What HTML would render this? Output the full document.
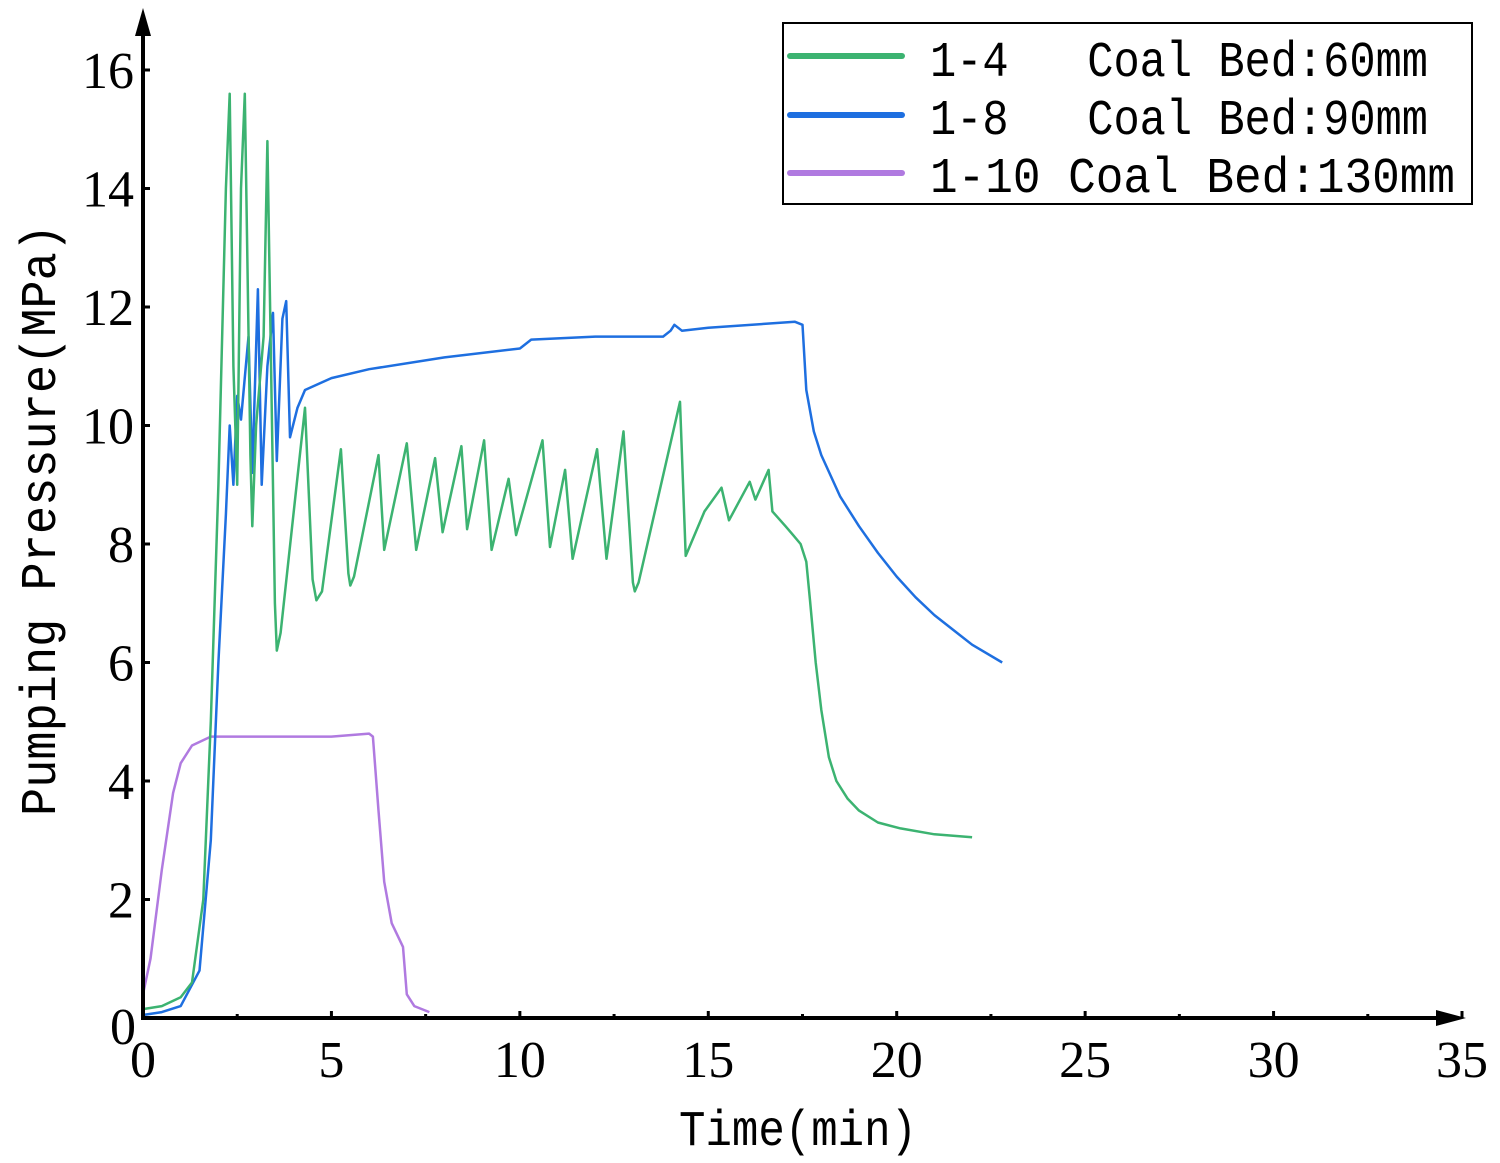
<!DOCTYPE html>
<html><head><meta charset="utf-8"><style>
html,body{margin:0;padding:0;background:#fff;}
svg{display:block;}
text{font-family:"Liberation Serif","Noto Serif CJK SC",serif;fill:#000;}
.mono{font-family:"Liberation Mono","Noto Sans CJK SC",monospace;white-space:pre;}
</style></head><body>
<svg id="chart" width="1500" height="1163" viewBox="0 0 1500 1163" xmlns="http://www.w3.org/2000/svg">
<g id="marks"></g>
<g id="axes"></g>
<g>
 <rect x="783" y="23" width="689" height="181" fill="#fff" stroke="#000" stroke-width="2"/>
 <line x1="790" y1="56" x2="902" y2="56" stroke="#3cb371" stroke-width="6" stroke-linecap="round"/>
 <line x1="790" y1="115" x2="902" y2="115" stroke="#1e6fe0" stroke-width="6" stroke-linecap="round"/>
 <line x1="790" y1="173" x2="902" y2="173" stroke="#b07ae0" stroke-width="6" stroke-linecap="round"/>
 <text class="mono" x="930" y="76" font-size="50" textLength="498" lengthAdjust="spacingAndGlyphs">1-4   Coal Bed:60mm</text>
 <text class="mono" x="930" y="134" font-size="50" textLength="498" lengthAdjust="spacingAndGlyphs">1-8   Coal Bed:90mm</text>
 <text class="mono" x="930" y="192" font-size="50" textLength="525" lengthAdjust="spacingAndGlyphs">1-10 Coal Bed:130mm</text>
</g>
<text x="798" y="1145" font-size="50" text-anchor="middle" class="mono" textLength="238" lengthAdjust="spacingAndGlyphs">Time(min)</text>
<text transform="translate(55,520) rotate(-90)" font-size="50" text-anchor="middle" class="mono" textLength="592" lengthAdjust="spacingAndGlyphs">Pumping Pressure(MPa)</text>
</svg>
<script>
const xTicks=[0,5,10,15,20,25,30,35];
const yTicks=[0,2,4,6,8,10,12,14,16];
const greenT=[0,0.5,1,1.3,1.6,1.8,2.0,2.2,2.3,2.4,2.5,2.6,2.7,2.85,2.9,3.0,3.2,3.3,3.5,3.55,3.65,4.3,4.5,4.6,4.75,5.25,5.45,5.5,5.6,6.25,6.4,7.0,7.25,7.75,7.95,8.45,8.6,9.05,9.25,9.7,9.9,10.6,10.8,11.2,11.4,12.05,12.3,12.75,13.0,13.05,13.15,14.25,14.4,14.9,15.35,15.55,16.1,16.25,16.6,16.7,17.05,17.25,17.45,17.6,17.7,17.85,18.0,18.2,18.4,18.7,19.0,19.5,20.1,21.0,22.0];
const greenP=[0.15,0.2,0.35,0.6,2,5,9,14,15.6,11,9,14,15.6,9.5,8.3,10,11.5,14.8,7.0,6.2,6.5,10.3,7.4,7.05,7.2,9.6,7.5,7.3,7.45,9.5,7.9,9.7,7.9,9.45,8.2,9.65,8.25,9.75,7.9,9.1,8.15,9.75,7.95,9.25,7.75,9.6,7.75,9.9,7.35,7.2,7.35,10.4,7.8,8.55,8.95,8.4,9.05,8.75,9.25,8.55,8.3,8.15,8.0,7.7,7.05,6.0,5.2,4.4,4.0,3.7,3.5,3.3,3.2,3.1,3.05];
const blueT=[0,0.5,1,1.5,1.8,2.0,2.2,2.3,2.4,2.5,2.6,2.8,2.9,3.05,3.15,3.3,3.45,3.55,3.7,3.8,3.9,4.1,4.3,5,6,8,10,10.3,12,13.8,14.0,14.1,14.3,15,17.3,17.5,17.6,17.8,18,18.5,19,19.5,20,20.5,21,21.5,22,22.8];
const blueP=[0.05,0.1,0.2,0.8,3,6,8.5,10,9.0,10.5,10.1,11.5,9.2,12.3,9.0,11.0,11.9,9.4,11.8,12.1,9.8,10.3,10.6,10.8,10.95,11.15,11.3,11.45,11.5,11.5,11.6,11.7,11.6,11.65,11.75,11.7,10.6,9.9,9.5,8.8,8.3,7.85,7.45,7.1,6.8,6.55,6.3,6.0];
const purpleT=[0,0.2,0.5,0.8,1.0,1.3,1.8,3,5,6,6.1,6.25,6.4,6.6,6.9,7.0,7.2,7.6];
const purpleP=[0.4,1,2.5,3.8,4.3,4.6,4.75,4.75,4.75,4.8,4.75,3.5,2.3,1.6,1.2,0.4,0.2,0.1];
const X=t=>143+t*(1462-143)/35;
const Y=p=>1018-p*(1018-70)/16;
const NS='http://www.w3.org/2000/svg';
const marks=document.getElementById('marks');
const axes=document.getElementById('axes');
function series(ts,ps,color,name){
  const pl=document.createElementNS(NS,'polyline');
  pl.setAttribute('points',ts.map((t,i)=>X(t).toFixed(1)+','+Y(ps[i]).toFixed(1)).join(' '));
  pl.setAttribute('fill','none');pl.setAttribute('stroke',color);pl.setAttribute('stroke-width','2.5');
  pl.setAttribute('stroke-linejoin','round');
  
  
  marks.appendChild(pl);
}
series(purpleT,purpleP,'#b07ae0','series-1-10');
series(blueT,blueP,'#1e6fe0','series-1-8');
series(greenT,greenP,'#3cb371','series-1-4');
function el(tag,attrs,parent){const e=document.createElementNS(NS,tag);for(const k in attrs)e.setAttribute(k,attrs[k]);parent.appendChild(e);return e;}
const xa=el('line',{x1:141,y1:1018,x2:1448,y2:1018,stroke:'#000','stroke-width':4},axes);


const ya=el('line',{x1:143,y1:1020,x2:143,y2:30,stroke:'#000','stroke-width':4},axes);


const xar=el('polygon',{points:'1466,1018 1436,1010 1436,1026',fill:'#000'},axes);


const yar=el('polygon',{points:'143,8 135,36 151,36',fill:'#000'},axes);


xTicks.forEach(v=>{
  const tk=el('line',{x1:X(v),y1:1018,x2:X(v),y2:1011,stroke:'#000','stroke-width':3},axes);
  
  
  if(v<35){const mt=el('line',{x1:X(v+2.5),y1:1018,x2:X(v+2.5),y2:1014,stroke:'#000','stroke-width':3},axes);
  
  }
  const tx=el('text',{x:X(v),y:1077,'font-size':52,'text-anchor':'middle'},axes);
  tx.textContent=v;
  
  
});
yTicks.forEach(v=>{
  if(v>0){const tk=el('line',{x1:143,y1:Y(v),x2:150,y2:Y(v),stroke:'#000','stroke-width':3},axes);
  
  }
  const tx=el('text',{x:v===0?136:134,y:Y(v)+(v===0?26:18),'font-size':52,'text-anchor':'end'},axes);
  tx.textContent=v;
  
  
});
</script>
</body></html>
